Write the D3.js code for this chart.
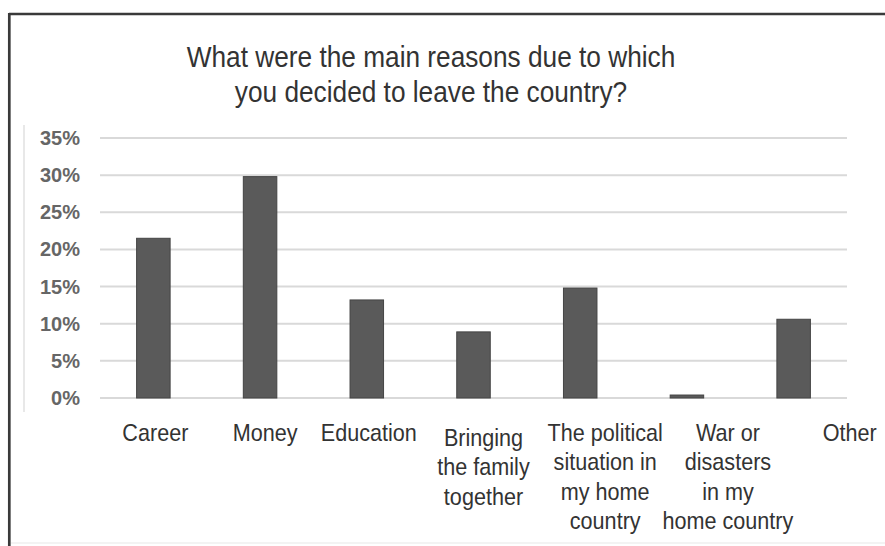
<!DOCTYPE html>
<html>
<head>
<meta charset="utf-8">
<script src="https://cdn.jsdelivr.net/npm/d3@7"></script>
<style>
  body { margin: 0; background: #fff; }
  svg { display: block; font-family: "Liberation Sans", Arial, sans-serif; }
</style>
</head>
<body>
<script>
// data
const categories = ["Career", "Money", "Education", "Bringing the family together",
  "The political situation in my home country", "War or disasters in my home country", "Other"];
const values = [21.5, 29.8, 13.2, 8.9, 14.8, 0.4, 10.6];
const labelLines = [["Career"], ["Money"], ["Education"], ["Bringing", "the family", "together"],
  ["The political", "situation in", "my home", "country"], ["War or", "disasters", "in my", "home country"], ["Other"]];
const yTicks = [0, 5, 10, 15, 20, 25, 30, 35];
const titleLines = ["What were the main reasons due to which", "you decided to leave the country?"];

// label layout tweaks (the labels in the picture drift right of the bars)
const labelShift = [2, 5, 2, 10, 25, 41, 56];
const labelDrop = [0, 0, 0, 5, 0, 0, 0];

var w = 885, h = 546;
const plotLeft = 100, plotRight = 847, plotTop = 138, plotBottom = 398;

const svg = d3.select("body").append("svg")
  .attr("width", w).attr("height", h);

// frame
svg.append("line").attr("x1", 9).attr("x2", w).attr("y1", 14).attr("y2", 14)
  .attr("stroke", "#3a3a3a").attr("stroke-width", 2.7);
svg.append("line").attr("x1", 9.3).attr("x2", 9.3).attr("y1", 13).attr("y2", h)
  .attr("stroke", "#3a3a3a").attr("stroke-width", 2.7);
svg.append("line").attr("x1", 24).attr("x2", 24).attr("y1", 125).attr("y2", 412)
  .attr("stroke", "#e0e0e0").attr("stroke-width", 1.5);
svg.append("line").attr("x1", 11).attr("x2", w).attr("y1", 543).attr("y2", 543)
  .attr("stroke", "#efefef").attr("stroke-width", 1.5);

const xScale = d3.scaleBand().domain(categories).range([plotLeft, plotRight])
  .paddingInner(0.686).paddingOuter(0.343);
const yScale = d3.scaleLinear().domain([0, 35]).range([plotBottom, plotTop]);

// gridlines
svg.append("g").selectAll("line").data(yTicks).enter().append("line")
  .attr("x1", plotLeft).attr("x2", plotRight)
  .attr("y1", d => yScale(d)).attr("y2", d => yScale(d))
  .attr("stroke", "#d9d9d9").attr("stroke-width", 2);

// y labels
svg.append("g").selectAll("text").data(yTicks).enter().append("text")
  .attr("x", 80).attr("y", d => yScale(d))
  .attr("dy", "0.35em")
  .attr("text-anchor", "end")
  .style("font-size", "20px").style("font-weight", "bold").attr("fill", "#666")
  .text(d => d + "%");

// bars
svg.append("g").selectAll("rect").data(values).enter().append("rect")
  .attr("x", (d, i) => xScale(categories[i]))
  .attr("y", d => yScale(d))
  .attr("width", xScale.bandwidth())
  .attr("height", d => plotBottom - yScale(d))
  .attr("fill", "#5a5a5a")
  .attr("stroke", "#444").attr("stroke-width", 1);

// category labels
const lab = svg.append("g").selectAll("g").data(labelLines).enter().append("g")
  .attr("transform", (d, i) => "translate(" + (xScale(categories[i]) + xScale.bandwidth() / 2 + labelShift[i]) +
    "," + (441 + labelDrop[i]) + ") scale(0.9,1)");
lab.append("text")
  .attr("text-anchor", "middle")
  .style("font-size", "24px").attr("fill", "#333")
  .selectAll("tspan").data(d => d).enter().append("tspan")
  .attr("x", 0).attr("y", (d, j) => j * 29.5)
  .text(d => d);

// title
svg.append("g").attr("transform", "translate(431,66.7) scale(0.875,1)")
  .append("text").attr("text-anchor", "middle")
  .style("font-size", "30px").attr("fill", "#333")
  .selectAll("tspan").data(titleLines).enter().append("tspan")
  .attr("x", 0).attr("y", (d, j) => j * 35)
  .text(d => d);
</script>
</body>
</html>
